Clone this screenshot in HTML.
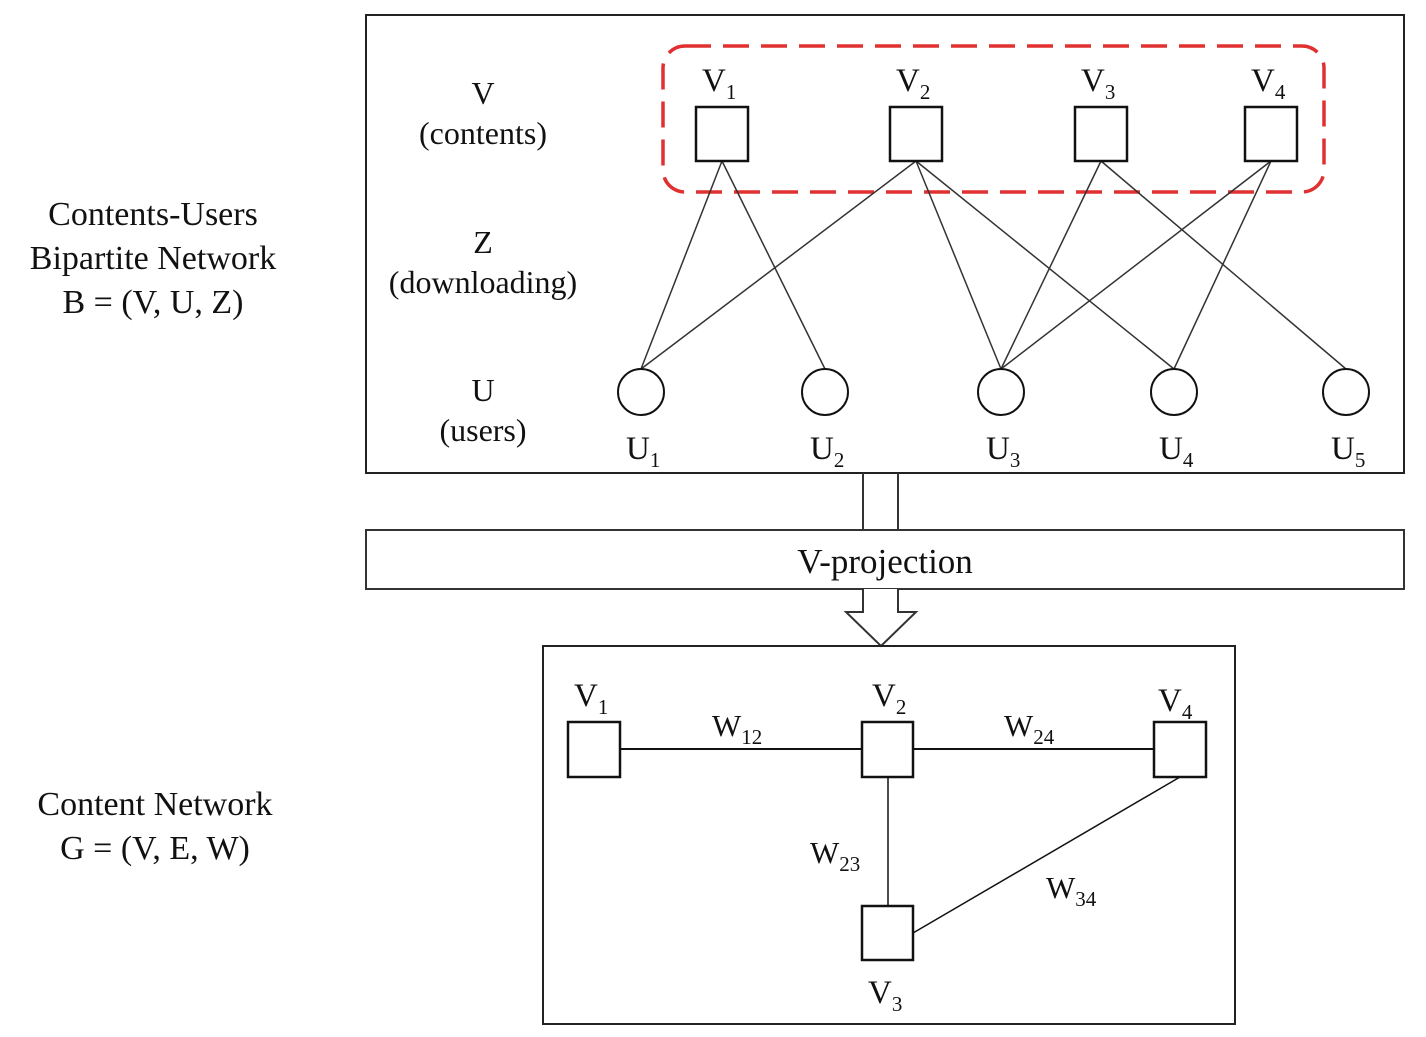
<!DOCTYPE html>
<html><head><meta charset="utf-8"><style>
html,body{margin:0;padding:0;background:#fff;}
svg{display:block;font-family:"Liberation Serif",serif;}
</style></head><body>
<svg id="s" width="1426" height="1037" viewBox="0 0 1426 1037">
<g font-size="34" text-anchor="middle" fill="#111">
<text x="153" y="225">Contents-Users</text>
<text x="153" y="269">Bipartite Network</text>
<text x="153" y="313">B = (V, U, Z)</text>
<text x="155" y="815">Content Network</text>
<text x="155" y="859">G = (V, E, W)</text>
</g>
<rect x="366" y="15" width="1038" height="458" fill="none" stroke="#222" stroke-width="2"/>
<rect x="663" y="46" width="661" height="146" rx="22" fill="none" stroke="#e03030" stroke-width="3.5" stroke-dasharray="26,12"/>
<g font-size="32" text-anchor="middle" fill="#111">
<text x="483" y="104">V</text><text x="483" y="144">(contents)</text>
<text x="483" y="253">Z</text><text x="483" y="293">(downloading)</text>
<text x="483" y="401">U</text><text x="483" y="441">(users)</text>
</g>
<g id="edges" stroke="#333" stroke-width="1.5"></g>
<g id="nodes"></g>
<path d="M863 473 V530 M898 473 V530" stroke="#333" stroke-width="2" fill="none"/>
<rect x="366" y="530" width="1038" height="59" fill="#fff" stroke="#333" stroke-width="2"/>
<text x="885" y="573" font-size="35" text-anchor="middle" fill="#111">V-projection</text>
<path d="M863 589 V612 H846 L881 646 L916 612 H898 V589" stroke="#333" stroke-width="2" fill="#fff"/>
<rect x="543" y="646" width="692" height="378" fill="none" stroke="#222" stroke-width="2"/>
<g stroke="#111" stroke-width="2">
<line x1="620" y1="749" x2="862" y2="749"/><line x1="913" y1="749" x2="1154" y2="749"/>
<line x1="888" y1="777" x2="888" y2="906" stroke-width="1.5"/><line x1="913" y1="933" x2="1180" y2="777" stroke-width="1.5"/>
</g>
<g stroke="#111" stroke-width="2.5" fill="#fff">
<rect x="568" y="722" width="52" height="55"/><rect x="862" y="722" width="51" height="55"/>
<rect x="1154" y="722" width="52" height="55"/><rect x="862" y="906" width="51" height="54"/>
</g>
<g font-size="33" fill="#111">
<text x="574" y="706">V<tspan font-size="21" dy="8">1</tspan></text>
<text x="872" y="706">V<tspan font-size="21" dy="8">2</tspan></text>
<text x="1158" y="711">V<tspan font-size="21" dy="8">4</tspan></text>
<text x="868" y="1003">V<tspan font-size="21" dy="8">3</tspan></text>
<text x="712" y="736" font-size="31">W<tspan font-size="21" dy="8">12</tspan></text>
<text x="1004" y="736" font-size="31">W<tspan font-size="21" dy="8">24</tspan></text>
<text x="810" y="863" font-size="31">W<tspan font-size="21" dy="8">23</tspan></text>
<text x="1046" y="898" font-size="31">W<tspan font-size="21" dy="8">34</tspan></text>
</g>
</svg>
<script>
const contents = ["1","2","3","4"];
const contentX = [722, 916, 1101, 1271];
const users = ["1","2","3","4","5"];
const userX = [641, 825, 1001, 1174, 1346];
const links = [[0,0],[0,1],[1,0],[1,2],[1,3],[2,2],[2,4],[3,2],[3,3]];
const NS = "http://www.w3.org/2000/svg";
const eg = document.getElementById("edges"), ng = document.getElementById("nodes");
links.forEach(([v,u])=>{
  const l=document.createElementNS(NS,"line");
  l.setAttribute("x1",contentX[v]);l.setAttribute("y1",161);
  l.setAttribute("x2",userX[u]);l.setAttribute("y2",369);
  
  
  eg.appendChild(l);
});
contents.forEach((c,i)=>{
  const r=document.createElementNS(NS,"rect");
  r.setAttribute("x",contentX[i]-26);r.setAttribute("y",107);r.setAttribute("width",52);r.setAttribute("height",54);
  r.setAttribute("fill","#fff");r.setAttribute("stroke","#111");r.setAttribute("stroke-width","2.5");
  
  
  ng.appendChild(r);
  const t=document.createElementNS(NS,"text");
  t.setAttribute("x",contentX[i]-20);t.setAttribute("y",91);t.setAttribute("font-size","33");t.setAttribute("fill","#111");
  t.innerHTML='V<tspan font-size="21" dy="8">'+c+'</tspan>';
  
  
  ng.appendChild(t);
});
users.forEach((u,i)=>{
  const c=document.createElementNS(NS,"circle");
  c.setAttribute("cx",userX[i]);c.setAttribute("cy",392);c.setAttribute("r",23);
  c.setAttribute("fill","#fff");c.setAttribute("stroke","#111");c.setAttribute("stroke-width","2");
  
  
  ng.appendChild(c);
  const t=document.createElementNS(NS,"text");
  t.setAttribute("x",userX[i]-15);t.setAttribute("y",459);t.setAttribute("font-size","33");t.setAttribute("fill","#111");
  t.innerHTML='U<tspan font-size="21" dy="8">'+u+'</tspan>';
  
  
  ng.appendChild(t);
});
</script>
</body></html>
